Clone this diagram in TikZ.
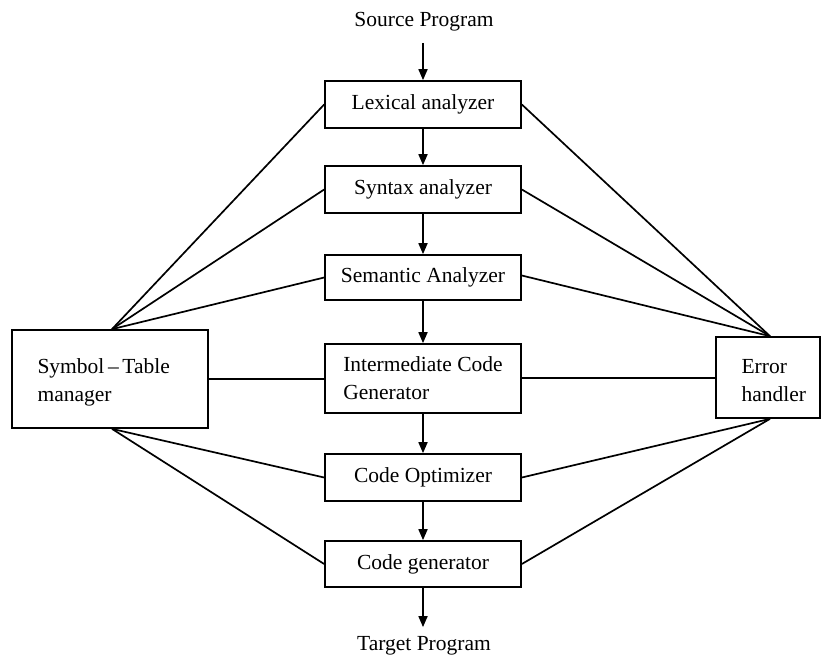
\documentclass[tikz,border=0pt]{standalone}
\usepackage{fontspec}
\setmainfont{Liberation Serif}
\usetikzlibrary{arrows.meta}
\begin{document}
\begin{tikzpicture}[x=1pt,y=-1pt,
  every node/.style={font=\fontsize{21.5}{28}\selectfont},
  stage/.style={draw,line width=1.7pt,minimum width=196pt,inner sep=0pt},
  side/.style={draw,line width=1.7pt,inner sep=0pt},
  flow/.style={line width=1.7pt,-{Triangle[length=11pt,width=9pt]}},
  link/.style={line width=1.7pt}]
\useasboundingbox (0,0) rectangle (821,657);

% main pipeline
\node (src) at (424,22) {Source Program};
\node[stage,minimum height=47pt] (lex) at (423,104.5) {Lexical analyzer};
\node[stage,minimum height=47pt] (syn) at (423,189.5) {Syntax analyzer};
\node[stage,minimum height=45pt] (sem) at (423,277.5) {Semantic Analyzer};
\node[stage,minimum height=69pt,align=left] (icg) at (423,378.5) {Intermediate Code\\Generator};
\node[stage,minimum height=47pt] (opt) at (423,477.5) {Code Optimizer};
\node[stage,minimum height=46pt] (gen) at (423,564) {Code generator};
\node (tgt) at (424,646) {Target Program};

% side boxes
\node[side,minimum width=196pt,minimum height=98pt] (sym) at (110,379) {};
\node[anchor=west,align=left] (symtxt) at (34,382) {Symbol\,–\,Table\\manager};
\node[side,minimum width=104pt,minimum height=81pt] (err) at (768,377.5) {};
\node[anchor=west,align=left] (errtxt) at (738,381) {Error\\handler};

% arrows (canvas yshift points up, so negative moves down)
\draw[flow] ([yshift=-8pt]src.south -| lex.north) -- (lex.north);
\draw[flow] (lex) -- (syn);
\draw[flow] (syn) -- (sem);
\draw[flow] (sem) -- (icg);
\draw[flow] (icg) -- (opt);
\draw[flow] (opt) -- (gen);
\draw[flow] (gen.south) -- ([yshift=6pt]gen.south |- tgt.north);

% symbol table links
\coordinate (symtop) at ([xshift=2pt]sym.north);
\coordinate (symbot) at ([xshift=2pt]sym.south);
\draw[link] (symtop) -- (lex.west);
\draw[link] (symtop) -- (syn.west);
\draw[link] (symtop) -- (sem.west);
\draw[link] (sym.east) -- (sym.east -| icg.west);
\draw[link] (symbot) -- (opt.west);
\draw[link] (symbot) -- (gen.west);

% error handler links
\coordinate (errtop) at ([xshift=2pt]err.north);
\coordinate (errbot) at ([xshift=2pt]err.south);
\draw[link] (errtop) -- (lex.east);
\draw[link] (errtop) -- (syn.east);
\draw[link] (errtop) -- ([yshift=2pt]sem.east);
\draw[link] ([yshift=0.5pt]icg.east) -- ([yshift=0.5pt]icg.east -| err.west);
\draw[link] (errbot) -- (opt.east);
\draw[link] (errbot) -- (gen.east);
\end{tikzpicture}
\end{document}
